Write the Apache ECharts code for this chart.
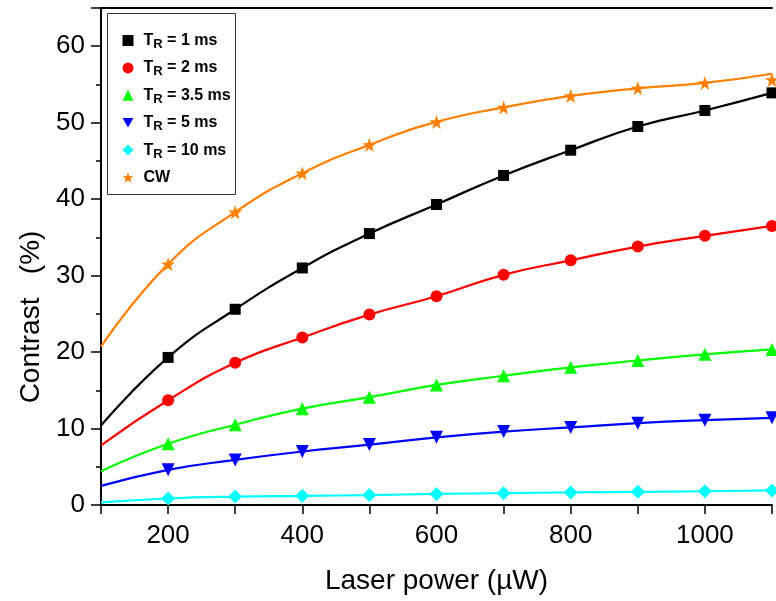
<!DOCTYPE html>
<html>
<head>
<meta charset="utf-8">
<script src="https://cdn.jsdelivr.net/npm/echarts@6/dist/echarts.min.js"></script>
<style>html,body{margin:0;padding:0;background:#fff}#c{width:776px;height:601px}</style>
</head>
<body>
<div id="c"></div>
<script>
// Data
const powers = [200, 300, 400, 500, 600, 700, 800, 900, 1000, 1100];
const tr1  = [19.3, 25.6, 31.0, 35.5, 39.3, 43.1, 46.4, 49.5, 51.6, 53.9];
const tr2  = [13.7, 18.6, 21.9, 24.9, 27.3, 30.1, 32.0, 33.8, 35.2, 36.5];
const tr35 = [8.0, 10.5, 12.6, 14.1, 15.7, 16.9, 18.0, 18.9, 19.7, 20.35];
const tr5  = [4.6, 5.9, 7.0, 7.9, 8.85, 9.6, 10.15, 10.7, 11.1, 11.4];
const tr10 = [0.85, 1.1, 1.2, 1.3, 1.45, 1.55, 1.65, 1.72, 1.8, 1.9];
const cw   = [31.5, 38.3, 43.4, 47.1, 50.1, 52.0, 53.5, 54.5, 55.2, 55.6];
// fitted curve end points (x = 100 and x = 1100)
const fitX = [100, 1100];
const fitStart = [10.4, 7.8, 4.4, 2.5, 0.35, 20.7];
const fitEnd   = [53.9, 36.5, 20.35, 11.4, 1.9, 56.4];
const names = ['TR1', 'TR2', 'TR35', 'TR5', 'TR10', 'CW'];
const labels = {
  TR1: '{t|T}{s|R}{t| = 1 ms}',
  TR2: '{t|T}{s|R}{t| = 2 ms}',
  TR35: '{t|T}{s|R}{t| = 3.5 ms}',
  TR5: '{t|T}{s|R}{t| = 5 ms}',
  TR10: '{t|T}{s|R}{t| = 10 ms}',
  CW: '{t|CW}{s| }'
};
const xTicks = [200, 400, 600, 800, 1000];

const star = 'path://M10,0 L12.35,6.76 L19.51,6.91 L13.80,11.24 L15.88,18.09 L10,14 L4.12,18.09 L6.20,11.24 L0.49,6.91 L7.65,6.76 Z';
const downTri = 'path://M0,0 L12,0 L6,10.4 Z';
const values = [tr1, tr2, tr35, tr5, tr10, cw];
const colors = ['#000000', '#ff0000', '#00ff00', '#0000ff', '#00ffff', '#ff8000'];
const symbols = ['rect', 'circle', 'triangle', downTri, 'diamond', star];
const symSizes = [11, 12, 13, 13, 14, 14];

const series = [];
values.forEach((v, i) => {
  const fit = [[fitX[0], fitStart[i]]];
  for (let k = 0; k < powers.length - 1; k++) fit.push([powers[k], v[k]]);
  fit.push([fitX[1], fitEnd[i]]);
  series.push({
    type: 'line', name: names[i] + '_fit', data: fit, smooth: 0.5,
    showSymbol: false, symbol: 'none',
    lineStyle: { color: colors[i], width: 2.2 }, z: 2, silent: true
  });
});
values.forEach((v, i) => {
  series.push({
    type: 'scatter', name: names[i],
    data: powers.map((p, k) => [p, v[k]]),
    symbol: symbols[i], symbolSize: symSizes[i],
    itemStyle: { color: colors[i], opacity: 1 }, z: 3
  });
});

const chart = echarts.init(document.getElementById('c'), null, { renderer: 'canvas', width: 776, height: 601 });
const font = '"Liberation Sans", Arial, sans-serif';
chart.setOption({
  animation: false,
  textStyle: { fontFamily: font },
  grid: { left: 101, right: 4, top: 8, bottom: 96, containLabel: false, outerBoundsMode: 'none' },
  legend: {
    orient: 'vertical', left: 107, top: 13,
    padding: [17, 10, 10, 15.5],
    itemGap: 6.4, itemWidth: 11, itemHeight: 11,
    data: names.map((n, i) => ({ name: n, icon: symbols[i], itemStyle: { color: colors[i] } })),
    formatter: n => labels[n],
    textStyle: {
      fontFamily: font, padding: [0, 0, 0, 5],
      rich: {
        t: { fontSize: 16, fontWeight: 'bold', color: '#000', fontFamily: font, lineHeight: 16 },
        s: { fontSize: 13, fontWeight: 'bold', color: '#000', fontFamily: font, lineHeight: 16, padding: [8, 0, 0, 0] }
      }
    }
  },
  graphic: [
    { type: 'rect', shape: { x: 107.5, y: 13.5, width: 128, height: 181 },
      style: { fill: null, stroke: '#333', lineWidth: 1 }, z: 10 },
    { type: 'text', x: 31, y: 317, rotation: Math.PI / 2,
      style: { text: 'Contrast   (%)', font: '28px "Liberation Sans", Arial, sans-serif',
               fill: '#000', align: 'center', verticalAlign: 'middle' } }
  ],
  xAxis: [{
    type: 'value', min: 100, max: 1100, interval: 100,
    name: 'Laser power (µW)', nameLocation: 'middle', nameGap: 62,
    nameTextStyle: { fontSize: 28, color: '#000', fontFamily: font },
    axisLine: { show: true, onZero: false, lineStyle: { color: '#000', width: 2 } },
    axisTick: { show: true, length: 9, lineStyle: { color: '#000', width: 1.5 } },
    splitLine: { show: false },
    axisLabel: {
      fontSize: 26, color: '#000', margin: 18, fontFamily: font,
      formatter: v => (xTicks.indexOf(v) >= 0 ? String(v) : '')
    }
  }, {
    type: 'value', position: 'top', min: 100, max: 1100,
    axisLine: { show: true, onZero: false, lineStyle: { color: '#000', width: 2 } },
    axisTick: { show: false }, axisLabel: { show: false }, splitLine: { show: false }
  }],
  yAxis: {
    type: 'value', min: 0, max: 65, interval: 10,
    axisLine: { show: true, onZero: false, lineStyle: { color: '#000', width: 2 } },
    axisTick: { show: true, length: 10, lineStyle: { color: '#000', width: 1.5 } },
    minorTick: { show: true, splitNumber: 2, length: 5, lineStyle: { color: '#000', width: 1.5 } },
    splitLine: { show: false },
    axisLabel: {
      fontSize: 26, color: '#000', margin: 16, fontFamily: font,
      formatter: v => (v % 10 === 0 ? String(v) : '')
    }
  },
  series: series
});
</script>
</body>
</html>
